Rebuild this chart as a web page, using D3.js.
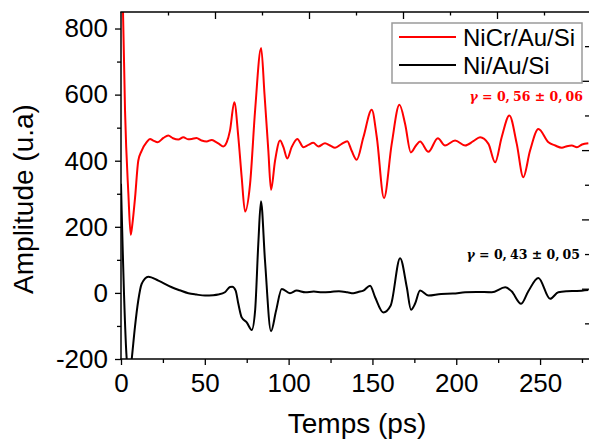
<!DOCTYPE html>
<html>
<head>
<meta charset="utf-8">
<script src="https://cdn.jsdelivr.net/npm/d3@7"></script>
<style>
  html, body { margin: 0; padding: 0; background: #fff; }
  svg { display: block; }
</style>
</head>
<body>
<svg id="chart" width="589" height="439"></svg>
<script>
// ---- Data ----
const nicrTime = [0, 1.2, 2.4, 4.4, 5.8, 6.8, 8.4, 10.3, 12.3, 15.3, 17.3, 19.3, 21.9, 25.3, 28.2, 31.0, 34.2, 37.2, 40.0, 42.2, 45.0, 48.1, 51.1, 54.1, 56.5, 58.5, 61, 63.1, 65, 67.6, 70, 72, 74, 77, 80, 83.6, 85.6, 87.9, 89.5, 91.9, 94.9, 96.9, 99.2, 101.8, 105.2, 108.8, 111.8, 114.7, 117.7, 121.7, 124.7, 127.7, 131.7, 135, 137.6, 140.6, 144.6, 149.6, 152.6, 156.9, 161.5, 166.1, 169.5, 172.9, 176, 178.4, 183.4, 189, 193.3, 199.3, 205.3, 210.2, 214.2, 219.2, 223.2, 227.1, 231.7, 236.1, 240, 244, 249, 255, 259, 263, 266, 268.9, 272, 275, 278.8];
const nicrAmp  = [1000, 850, 553, 300, 176, 209, 289, 400, 430, 456, 466, 461, 456, 469, 476, 468, 464, 471, 465, 466, 469, 461, 458, 463, 457, 451, 443, 456, 491, 577, 471, 350, 246, 330, 552, 741, 602, 430, 312, 400, 461, 441, 407, 441, 466, 441, 448, 454, 443, 453, 446, 439, 451, 459, 430, 403, 471, 554, 471, 287, 451, 569, 511, 425, 446, 458, 427, 468, 446, 461, 446, 459, 471, 451, 395, 471, 537, 451, 350, 430, 496, 456, 446, 439, 444, 446, 441, 449, 453];

const niTime = [0, 0.4, 3.4, 5.0, 6.4, 8.3, 10.3, 12.3, 16.3, 22.3, 30.3, 35, 40.2, 45, 50.1, 55, 58, 62, 65, 66.4, 68.4, 70, 72, 75, 78, 80, 81.9, 83.5, 85.9, 89.5, 92.5, 95.9, 100.8, 104.8, 110, 115, 120, 125, 130, 135, 138.6, 141.5, 144.6, 148.6, 151.6, 156.5, 160.9, 166.5, 170.5, 173, 175.4, 178.4, 183.4, 191, 198, 205.3, 212, 221.2, 229.2, 233, 238.7, 243, 249, 256, 260.9, 266, 272, 278.8];
const niAmp  = [330, 249, -200, -260, -200, -104, -23, 27, 49, 37, 17, 8, -1, -5, -8, -7, -5, 2, 18, 19, 7, -33, -74, -89, -112, -54, 148, 277, 98, -116, -54, 12, -1, 7, 2, 4, 2, 3, 5, 2, -1, 3, 7, 22, -13, -59, -38, 105, 17, -51, -33, 7, -8, -3, -2, 2, 3, 2, 17, 5, -33, 5, 45, -18, 2, 5, 6, 9];

const yTickValues = [-200, 0, 200, 400, 600, 800];
const xTickValues = [0, 50, 100, 150, 200, 250];
const seriesNames = ["NiCr/Au/Si", "Ni/Au/Si"];
const seriesColors = ["#ff0000", "#000000"];
// gamma annotations split as [symbol, " = 0,", "56 ± 0,", "06"]
const gammaParts = [
  ["γ", " = 0,", "56 ± 0,", "06"],
  ["γ", " = 0,", "43 ± 0,", "05"]
];
const xTitle = "Temps (ps)";
const yTitle = "Amplitude (u.a)";

// ---- Layout ----
const L = 121, R = 589, T = 12, B = 359;
const svg = d3.select("#chart");

const x = d3.scaleLinear().domain([0, 278]).range([L, 587]);
const y = d3.scaleLinear().domain([-200, 850]).range([B, T]);
// mirrored (decorative) tick scales on top / right frame
const xTop = d3.scaleLinear().domain([0, 250]).range([L, 591]);
const yRight = d3.scaleLinear().domain([0, 5]).range([358, 11.5]);

svg.append("defs").append("clipPath").attr("id", "clip")
  .append("rect").attr("x", L).attr("y", T).attr("width", R - L).attr("height", B - T);

const line = d3.line().x(d => x(d[0])).y(d => y(d[1])).curve(d3.curveMonotoneX);

const niData = niTime.map((t, i) => [t, niAmp[i]]);
const nicrData = nicrTime.map((t, i) => [t, nicrAmp[i]]);

const plot = svg.append("g").attr("clip-path", "url(#clip)");
plot.append("path").datum(niData).attr("d", line)
  .attr("fill", "none").attr("stroke", seriesColors[1]).attr("stroke-width", 2).attr("stroke-linejoin", "round");
plot.append("path").datum(nicrData).attr("d", line)
  .attr("fill", "none").attr("stroke", seriesColors[0]).attr("stroke-width", 2).attr("stroke-linejoin", "round");

// ---- Axes ----
const tickFont = "'Liberation Sans', Arial, sans-serif";
const fmt = d => String(d);

const leftMajor = d3.axisLeft(y).tickValues(yTickValues).tickSize(6).tickPadding(7).tickFormat(fmt);
const gL = svg.append("g").attr("transform", `translate(${L},0)`).call(leftMajor);
const leftMinor = d3.axisLeft(y).tickValues(d3.range(-100, 850, 200)).tickSize(4).tickFormat("");
const gLm = svg.append("g").attr("transform", `translate(${L},0)`).call(leftMinor);

const botMajor = d3.axisBottom(x).tickValues(xTickValues).tickSize(6).tickPadding(9).tickFormat(fmt);
const gB = svg.append("g").attr("transform", `translate(0,${B})`).call(botMajor);
const botMinor = d3.axisBottom(x).tickValues(d3.range(25, 280, 50)).tickSize(4).tickFormat("");
const gBm = svg.append("g").attr("transform", `translate(0,${B})`).call(botMinor);

const topMajor = d3.axisBottom(xTop).tickValues(d3.range(50, 251, 50)).tickSize(7).tickFormat("");
const gT = svg.append("g").attr("transform", `translate(0,${T})`).call(topMajor);
const topMinor = d3.axisBottom(xTop).tickValues(d3.range(25, 251, 50)).tickSize(3.5).tickFormat("");
const gTm = svg.append("g").attr("transform", `translate(0,${T})`).call(topMinor);

const rightMajor = d3.axisLeft(yRight).tickValues([1, 2, 3, 4]).tickSize(7).tickFormat("");
const gR = svg.append("g").attr("transform", `translate(${R},0)`).call(rightMajor);
const rightMinor = d3.axisLeft(yRight).tickValues([0.5, 1.5, 2.5, 3.5, 4.5]).tickSize(4).tickFormat("");
const gRm = svg.append("g").attr("transform", `translate(${R},0)`).call(rightMinor);

[gL, gLm, gB, gBm, gT, gTm, gR, gRm].forEach(g => {
  g.select(".domain").remove();
  g.selectAll(".tick line").attr("stroke", "#000").attr("stroke-width", 1.3);
  g.selectAll(".tick text").attr("font-family", tickFont).attr("font-size", 26).attr("fill", "#000");
});

// frame lines
svg.append("line").attr("x1", L).attr("x2", L).attr("y1", T).attr("y2", B + 0.7).attr("stroke", "#000").attr("stroke-width", 1.5);
svg.append("line").attr("x1", L - 0.7).attr("x2", R).attr("y1", B).attr("y2", B).attr("stroke", "#000").attr("stroke-width", 1.5);
svg.append("line").attr("x1", L - 0.7).attr("x2", R).attr("y1", T).attr("y2", T).attr("stroke", "#000").attr("stroke-width", 1.5);

// ---- Titles ----
svg.append("text").attr("x", 357).attr("y", 433).attr("text-anchor", "middle")
  .attr("font-family", tickFont).attr("font-size", 28).text(xTitle);
svg.append("text").attr("transform", "translate(33,199) rotate(-90)").attr("text-anchor", "middle")
  .attr("font-family", tickFont).attr("font-size", 28).text(yTitle);

// ---- Legend ----
const leg = svg.append("g");
leg.append("rect").attr("x", 392).attr("y", 23).attr("width", 190).attr("height", 60)
  .attr("fill", "#fff").attr("stroke", "#9a9a9a").attr("stroke-width", 1.5);
const legY = [37, 65], legBase = [46, 74];
seriesNames.forEach((n, i) => {
  leg.append("line").attr("x1", 399).attr("x2", 456).attr("y1", legY[i]).attr("y2", legY[i])
    .attr("stroke", seriesColors[i]).attr("stroke-width", 2);
  leg.append("text").attr("x", 463).attr("y", legBase[i]).attr("font-family", tickFont)
    .attr("font-size", 24).attr("fill", "#000").text(n);
});

// ---- Gamma annotations ----
const gX = [583, 580], gY = [101, 259];
gammaParts.forEach((p, i) => {
  const t = svg.append("text").attr("x", gX[i]).attr("y", gY[i]).attr("text-anchor", "end")
    .attr("font-family", "'DejaVu Serif', serif").attr("font-weight", "bold").attr("font-size", 12.5)
    .attr("fill", seriesColors[i]);
  t.append("tspan").attr("font-style", "italic").text(p[0]);
  t.append("tspan").text(p[1]);
  t.append("tspan").attr("dx", 3).text(p[2]);
  t.append("tspan").attr("dx", 3).text(p[3]);
});
</script>
</body>
</html>
